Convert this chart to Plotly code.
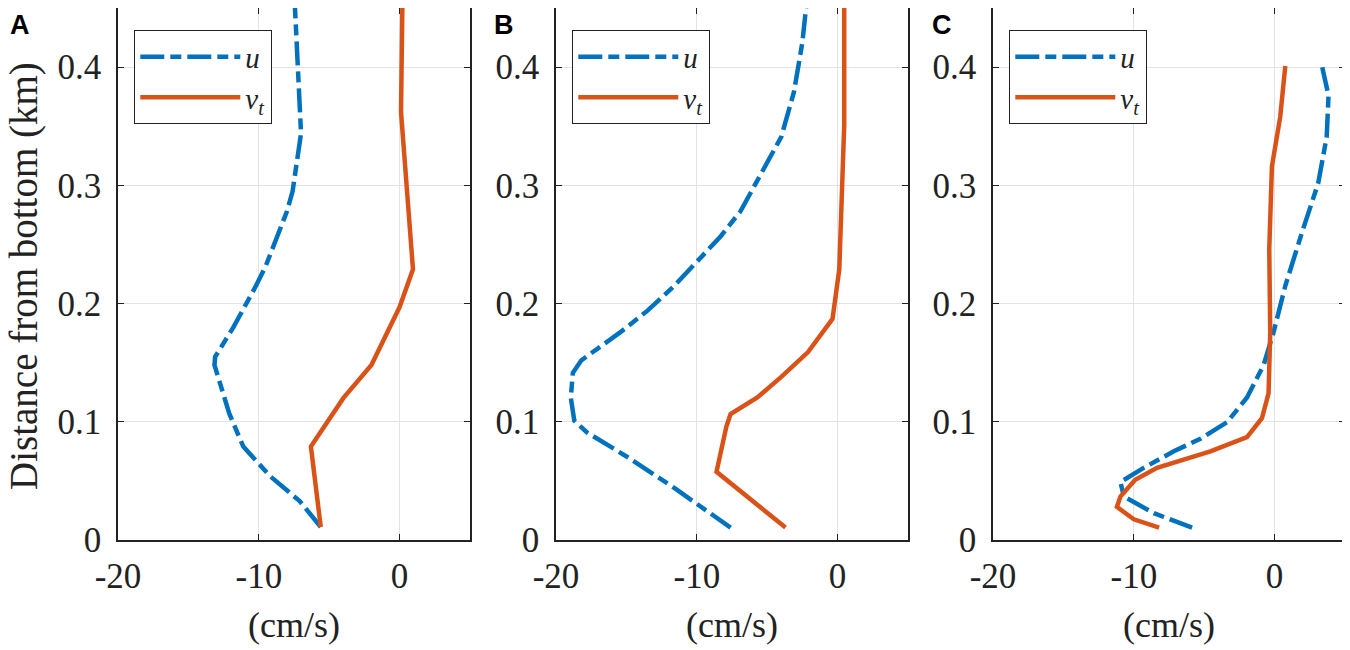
import plotly.graph_objects as go
from plotly.subplots import make_subplots

# velocity profiles, x in cm/s, y in km above the bottom
# panel A
a_u_x = [-5.6, -7.1, -9.2, -11.1, -12.1, -13.15, -13.1, -11.8, -10.2, -9.5, -8.0, -7.6, -7.0, -7.2, -7.45]
a_u_y = [0.011, 0.033, 0.054, 0.079, 0.107, 0.148, 0.155, 0.18, 0.215, 0.232, 0.278, 0.295, 0.344, 0.40, 0.455]
a_v_x = [-5.6, -6.3, -4.0, -2.0, 0.0, 0.95, 0.1, 0.2]
a_v_y = [0.011, 0.079, 0.12, 0.148, 0.197, 0.229, 0.362, 0.455]

# panel B
b_u_x = [-7.6, -11.6, -14.9, -17.8, -18.7, -18.95, -18.8, -18.2, -15.4, -13.5, -11.6, -9.95,
         -8.3, -6.9, -5.45, -4.0, -3.1, -2.5, -2.2]
b_u_y = [0.0105, 0.044, 0.07, 0.091, 0.101, 0.1205, 0.1415, 0.152, 0.176, 0.194, 0.215, 0.236,
         0.257, 0.278, 0.309, 0.341, 0.379, 0.421, 0.455]
b_v_x = [-3.7, -7.8, -8.6, -7.9, -7.6, -5.7, -4.0, -2.1, -0.36, 0.12, 0.24, 0.47, 0.47]
b_v_y = [0.0105, 0.049, 0.0577, 0.096, 0.1066, 0.1205, 0.138, 0.159, 0.187, 0.229, 0.264, 0.351, 0.455]

# panel C
c_u_x = [-5.86, -8.58, -10.7, -10.95, -9.3, -7.16, -5.27, -3.38, -1.96, -0.78, -0.07, 0.76,
         1.94, 3.1, 3.7, 3.83, 3.36]
c_u_y = [0.0105, 0.0227, 0.0367, 0.049, 0.061, 0.075, 0.0856, 0.0996, 0.1205, 0.148, 0.176, 0.215,
         0.26, 0.302, 0.341, 0.376, 0.401]
c_v_x = [-8.2, -10.0, -11.2, -10.95, -9.9, -8.35, -4.56, -1.96, -0.9, -0.43, -0.31, -0.38,
         -0.19, 0.4, 0.76]
c_v_y = [0.0105, 0.0175, 0.028, 0.0367, 0.051, 0.061, 0.075, 0.087, 0.103, 0.124, 0.176, 0.246,
         0.316, 0.358, 0.401]

panels = ["A", "B", "C"]
x_ticks = [-20, -10, 0]
x_labels = ["-20", "-10", "0"]
y_ticks = [0, 0.1, 0.2, 0.3, 0.4]
y_labels = ["0", "0.1", "0.2", "0.3", "0.4"]

blue = "#0072BD"
orange = "#D95319"
ink = "#222"
serif = "Liberation Serif"

profiles = [(a_u_x, a_u_y, a_v_x, a_v_y),
            (b_u_x, b_u_y, b_v_x, b_v_y),
            (c_u_x, c_u_y, c_v_x, c_v_y)]

# the page body adds an 8px margin, so work in window pixels minus 8
OFF = 8
W, H = 1350 - OFF, 650 - OFF
left_px = [118, 556, 993]
letter_px = [8, 492, 930]
panel_w = 352
top_px, bottom_px = 8, 540


def px_x(p):
    return (p - OFF) / W


def px_y(p):
    return 1 - (p - OFF) / H


fig = make_subplots(rows=1, cols=3)

for i, (ux, uy, vx, vy) in enumerate(profiles):
    leg = "legend" if i == 0 else "legend%d" % (i + 1)
    fig.add_trace(go.Scatter(x=ux, y=uy, mode="lines", name="<i>u</i>", legend=leg,
                             line=dict(color=blue, width=4.5, dash="24px,6px,11px,6px")), 1, i + 1)
    fig.add_trace(go.Scatter(x=vx, y=vy, mode="lines", name="<i>v<sub>t</sub></i>", legend=leg,
                             line=dict(color=orange, width=4.5)), 1, i + 1)

    fig.update_xaxes(domain=[px_x(left_px[i]), px_x(left_px[i] + panel_w)], range=[-20, 5],
                     tickvals=x_ticks, ticktext=x_labels, row=1, col=i + 1)
    fig.update_yaxes(domain=[px_y(bottom_px), min(1, px_y(top_px))], range=[0, 0.45],
                     tickvals=y_ticks, ticktext=y_labels, row=1, col=i + 1)

    # legend box inside each panel
    fig.update_layout({leg: dict(x=px_x(left_px[i] + 16), y=px_y(30), xanchor="left", yanchor="top",
                                 bgcolor="white", bordercolor=ink, borderwidth=1.3,
                                 font=dict(family=serif, size=29, color=ink),
                                 itemwidth=100, tracegroupgap=0)})

    # panel letter
    fig.add_annotation(text="<b>%s</b>" % panels[i], xref="paper", yref="paper",
                       x=px_x(letter_px[i]), y=1, xanchor="left", yanchor="top",
                       showarrow=False, font=dict(family="Liberation Sans", size=27, color="black"))
    # x title
    fig.add_annotation(text="(cm/s)", xref="paper", yref="paper",
                       x=px_x(left_px[i] + panel_w / 2), y=px_y(625), xanchor="center", yanchor="middle",
                       showarrow=False, font=dict(family=serif, size=36, color=ink))

fig.add_annotation(text="Distance from bottom (km)", xref="paper", yref="paper",
                   x=px_x(24), y=px_y(276), xanchor="center", yanchor="middle", textangle=-90,
                   showarrow=False, font=dict(family=serif, size=39, color=ink))

axis_style = dict(showline=True, linecolor=ink, linewidth=1.5, mirror="ticks",
                  ticks="inside", ticklen=6, tickcolor=ink, showgrid=True, gridcolor="#e3e3e3",
                  gridwidth=1, zeroline=False, automargin=False,
                  tickfont=dict(family=serif, size=35, color=ink))
fig.update_xaxes(**axis_style, ticklabelstandoff=4)
fig.update_yaxes(**axis_style, ticklabelstandoff=8)

fig.update_layout(width=W, height=H, margin=dict(l=0, r=0, t=0, b=0),
                  paper_bgcolor="white", plot_bgcolor="white", showlegend=True)

fig.write_html("out.html")
